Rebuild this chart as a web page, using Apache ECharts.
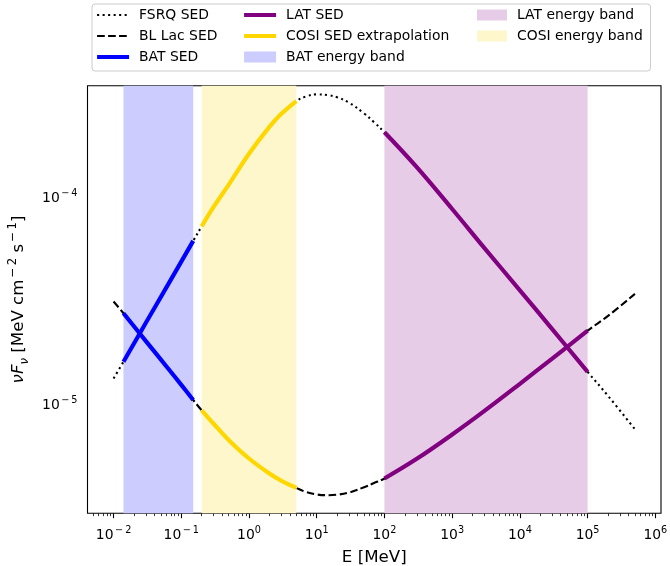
<!DOCTYPE html>
<html><head><meta charset="utf-8">
<script src="https://cdn.jsdelivr.net/npm/echarts@6/dist/echarts.min.js"></script>
<style>html,body{margin:0;padding:0;background:#fff}#c{width:670px;height:566px}</style>
</head><body><div id="c"></div>
<script>
// ---- data (energies in MeV, nuFnu in MeV cm^-2 s^-1) ----
const energies = [0.01, 0.014, 0.03, 0.06, 0.1, 0.15, 0.2, 0.3, 0.5, 1, 2, 3, 5, 7, 10, 15, 20, 30, 50, 70, 100, 300, 1000, 3000, 1e4, 3e4, 1e5, 2e5, 5e5];
const fsrqFlux = [1.346e-5, 1.622e-5, 2.50e-5, 3.70e-5, 4.94e-5, 6.22e-5, 7.31e-5, 9.08e-5, 1.161e-4, 1.641e-4, 2.213e-4, 2.559e-4, 2.951e-4, 3.105e-4, 3.177e-4, 3.148e-4, 3.076e-4, 2.897e-4, 2.570e-4, 2.333e-4, 2.084e-4, 1.413e-4, 8.87e-5, 5.74e-5, 3.59e-5, 2.33e-5, 1.449e-5, 1.109e-5, 7.64e-6];
const blLacFlux = [3.17e-5, 2.78e-5, 2.04e-5, 1.542e-5, 1.253e-5, 1.059e-5, 9.44e-6, 8.13e-6, 6.79e-6, 5.52e-6, 4.67e-6, 4.31e-6, 3.98e-6, 3.80e-6, 3.70e-6, 3.67e-6, 3.69e-6, 3.78e-6, 4.01e-6, 4.20e-6, 4.42e-6, 5.50e-6, 7.21e-6, 9.38e-6, 1.268e-5, 1.679e-5, 2.29e-5, 2.70e-5, 3.45e-5];
const batBand = [0.014, 0.15];
const cosiBand = [0.2, 5];
const latBand = [100, 1e5];
const xTickLabels = [1e-2, 1e-1, 1e0, 1e1, 1e2, 1e3, 1e4, 1e5, 1e6];
const yTickLabels = [1e-5, 1e-4];
const yLimits = [3e-6, 3.5e-4];

// ---- helpers ----
const L = Math.log10;
const FONT = 'DejaVu Sans';
const pts = (flux, band) => energies.map((e, i) => [e, flux[i]])
  .filter(p => !band || (p[0] >= band[0] * 0.9999 && p[0] <= band[1] * 1.0001))
  .map(p => [L(p[0]), L(p[1])]);
const xSpan = L(energies[energies.length - 1]) - L(energies[0]);
const xMin = L(energies[0]) - 0.05 * xSpan;
const xMax = L(energies[energies.length - 1]) + 0.05 * xSpan;
const yMin = L(yLimits[0]), yMax = L(yLimits[1]);
function minorTicks(lo, hi) {
  const out = [];
  for (let k = -8; k <= 8; k++) for (let m = 2; m <= 9; m++) {
    const v = L(m) + k;
    if (v >= lo && v <= hi) out.push(v);
  }
  return out;
}
const supLabel = v => {
  const n = Math.round(v);
  return '{b|10}' + (n < 0 ? '{m|\u2212}{s|' + (-n) + '}' : '{s|' + n + '}');
};
const richTick = {
  b: { fontFamily: FONT, fontSize: 13.9, color: '#000', lineHeight: 20 },
  m: { fontFamily: FONT, fontSize: 9.7, color: '#000', lineHeight: 10, verticalAlign: 'top', padding: [0, 2, 0, 1.5] },
  s: { fontFamily: FONT, fontSize: 9.7, color: '#000', lineHeight: 10, verticalAlign: 'top' }
};

const DOT = [2.08, 3.43], DASH = [7.7, 3.3];
const BLUE = '#0000ff', GOLD = '#ffd700', PURPLE = '#800080';
const BAT_C = '#ccccff', COSI_C = '#fff7cc', LAT_C = '#e6cce6';

function seg(name, flux, band, color) {
  return { name, type: 'line', data: pts(flux, band), symbol: 'none', smooth: 0.4,
    color, lineStyle: { color, width: 4.17, cap: 'butt' }, z: 4, silent: true };
}
function bandSeries(name, band, color) {
  return { name, type: 'line', data: [], color, itemStyle: { color }, z: 1, silent: true,
    markArea: { silent: true, itemStyle: { color, opacity: 1 },
      data: [[{ xAxis: L(band[0]) }, { xAxis: L(band[1]) }]] } };
}
const lineItem = name => ({ name, itemStyle: { opacity: 0, borderWidth: 0 } });

const legendCommon = {
  orient: 'vertical', top: 7, itemWidth: 32, itemHeight: 11, itemGap: 5, padding: 0,
  selectedMode: false,
  textStyle: { fontFamily: FONT, fontSize: 13.9, color: '#000', lineHeight: 16, padding: [0, 0, 0, 5] },
  lineStyle: { width: 'inherit' }
};

const ax = { fontFamily: FONT, fontSize: 16.67, color: '#000' };
const chart = echarts.init(document.getElementById('c'), null, { renderer: 'canvas' });
chart.setOption({
  animation: false,
  backgroundColor: '#fff',
  graphic: [{
    type: 'rect', left: 91.5, top: 3.5, z: 0,
    shape: { width: 558.5, height: 67, r: 3 },
    style: { fill: '#fff', stroke: '#cccccc', lineWidth: 1 }
  }],
  legend: [
    Object.assign({}, legendCommon, { left: 95, data: [lineItem('FSRQ SED'), lineItem('BL Lac SED'), lineItem('BAT SED')] }),
    Object.assign({}, legendCommon, { left: 242, data: [lineItem('LAT SED'), lineItem('COSI SED extrapolation'), { name: 'BAT energy band', icon: 'rect' }] }),
    Object.assign({}, legendCommon, { left: 477, itemWidth: 30, data: [{ name: 'LAT energy band', icon: 'rect' }, { name: 'COSI energy band', icon: 'rect' }] })
  ],
  grid: { left: 87.5, right: 9, top: 85.7, bottom: 52.7, show: true, borderColor: '#000', borderWidth: 1.1, outerBoundsMode: 'none' },
  xAxis: [{
    type: 'value', min: xMin, max: xMax, position: 'bottom',
    axisLine: { show: false }, splitLine: { show: false },
    axisTick: { show: true, length: 4.9, lineStyle: { color: '#000', width: 1.1 }, customValues: xTickLabels.map(L) },
    axisLabel: { show: true, margin: 12, customValues: xTickLabels.map(L), formatter: supLabel, rich: richTick },
    name: 'E [MeV]', nameLocation: 'middle', nameGap: 31,
    nameTextStyle: Object.assign({ lineHeight: 20 }, ax)
  }, {
    type: 'value', min: xMin, max: xMax, position: 'bottom', offset: 0,
    axisLine: { show: false }, splitLine: { show: false }, axisLabel: { show: false },
    axisTick: { show: true, length: 2.8, lineStyle: { color: '#000', width: 0.8 }, customValues: minorTicks(xMin, xMax) }
  }],
  yAxis: [{
    type: 'value', min: yMin, max: yMax, position: 'left',
    axisLine: { show: false }, splitLine: { show: false },
    axisTick: { show: true, length: 4.9, lineStyle: { color: '#000', width: 1.1 }, customValues: yTickLabels.map(L) },
    axisLabel: { show: true, margin: 10, customValues: yTickLabels.map(L), formatter: supLabel, rich: richTick },
    name: '{i|\u03bdF}{u|\u03bd}{b| [MeV cm}{m|\u2212}{s|2}{b| s}{m|\u2212}{s|1}{b|]}',
    nameLocation: 'middle', nameRotate: 90, nameGap: 56,
    nameTextStyle: Object.assign({}, ax, { rich: {
      i: Object.assign({ fontStyle: 'italic', lineHeight: 24 }, ax),
      u: { fontFamily: FONT, fontSize: 11.7, fontStyle: 'italic', color: '#000', lineHeight: 12, verticalAlign: 'bottom' },
      b: Object.assign({ lineHeight: 24 }, ax),
      m: { fontFamily: FONT, fontSize: 11.7, color: '#000', lineHeight: 12, verticalAlign: 'top', padding: [0, 2.5, 0, 2] },
      s: { fontFamily: FONT, fontSize: 11.7, color: '#000', lineHeight: 12, verticalAlign: 'top' }
    } })
  }, {
    type: 'value', min: yMin, max: yMax, position: 'left', offset: 0,
    axisLine: { show: false }, splitLine: { show: false }, axisLabel: { show: false },
    axisTick: { show: true, length: 2.8, lineStyle: { color: '#000', width: 0.8 }, customValues: minorTicks(yMin, yMax) }
  }],
  series: [
    bandSeries('BAT energy band', batBand, BAT_C),
    bandSeries('COSI energy band', cosiBand, COSI_C),
    bandSeries('LAT energy band', latBand, LAT_C),
    { name: 'FSRQ SED', type: 'line', data: pts(fsrqFlux), symbol: 'none', smooth: 0.4, color: '#000',
      lineStyle: { color: '#000', width: 2.08, type: DOT, cap: 'butt' }, z: 3, silent: true },
    { name: 'BL Lac SED', type: 'line', data: pts(blLacFlux), symbol: 'none', smooth: 0.4, color: '#000',
      lineStyle: { color: '#000', width: 2.08, type: DASH, cap: 'butt' }, z: 3, silent: true },
    seg('BAT SED', fsrqFlux, batBand, BLUE),
    seg('BAT SED', blLacFlux, batBand, BLUE),
    seg('COSI SED extrapolation', fsrqFlux, cosiBand, GOLD),
    seg('COSI SED extrapolation', blLacFlux, cosiBand, GOLD),
    seg('LAT SED', fsrqFlux, latBand, PURPLE),
    seg('LAT SED', blLacFlux, latBand, PURPLE)
  ]
});
</script></body></html>
